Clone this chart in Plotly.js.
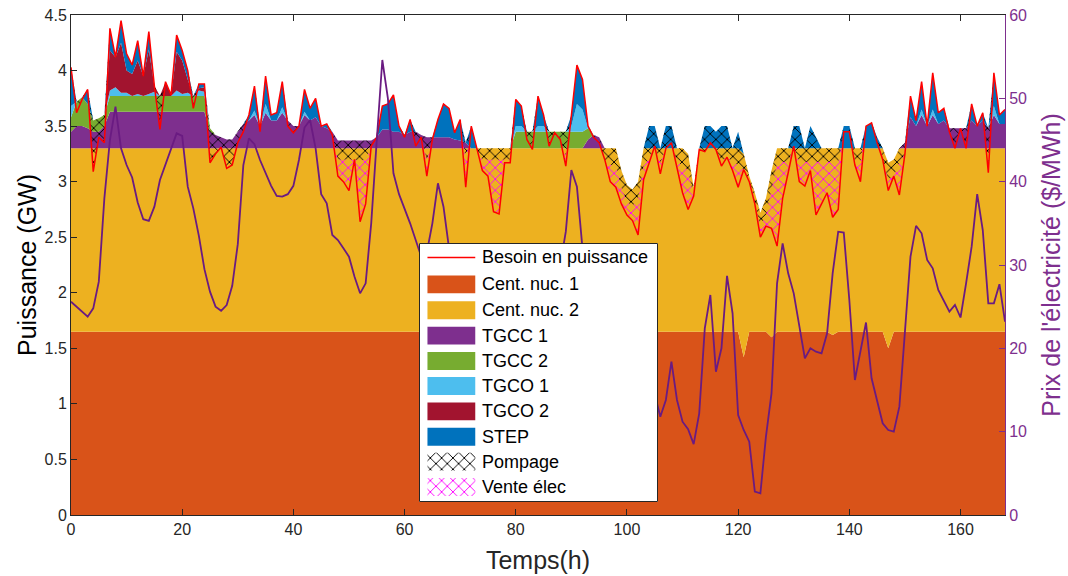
<!DOCTYPE html>
<html><head><meta charset="utf-8">
<script src="https://cdn.plot.ly/plotly-3.0.1.min.js"></script>
<style>html,body{margin:0;padding:0;background:#fff}#chart{width:1068px;height:576px}</style>
</head><body><div id="chart"></div>
<script>
// Time axis (hours)
const hours = Array.from({length:169}, (_, i) => i);

// Demand (GW)
const demand = [
4.03,3.62,3.74,3.83,3.09,3.40,3.35,4.38,4.12,4.45,
4.15,4.05,4.27,3.95,4.35,3.86,3.47,3.90,3.78,4.32,
4.18,4.00,3.66,3.88,3.88,3.17,3.25,3.31,3.12,3.15,
3.35,3.45,3.60,3.86,3.45,3.95,3.60,3.62,3.90,3.50,
3.44,3.50,3.83,3.66,3.75,3.50,3.52,3.42,3.05,3.00,
2.92,3.20,2.64,2.80,3.32,3.40,3.68,3.70,3.78,3.50,
3.40,3.56,3.32,3.40,3.05,3.38,3.56,3.70,3.66,3.44,
3.56,2.95,3.50,3.29,3.10,3.05,2.73,2.71,3.17,3.17,
3.74,3.68,3.38,3.29,3.77,3.60,3.32,3.44,3.38,3.14,
3.60,4.05,3.92,3.50,3.40,3.35,3.20,3.00,2.95,2.80,
2.70,2.65,2.52,3.02,3.17,3.32,3.07,3.30,3.35,3.12,
2.90,2.75,2.87,3.29,3.27,3.35,3.29,3.14,3.22,3.10,
2.95,3.11,3.00,2.80,2.50,2.60,2.58,2.42,2.85,3.08,
3.32,3.00,2.96,3.10,2.70,2.80,2.90,2.68,2.75,3.45,
3.45,3.15,3.00,3.50,3.53,3.35,3.20,2.92,3.05,2.88,
3.25,3.77,3.55,3.90,3.50,3.98,3.62,3.66,3.45,3.30,
3.48,3.30,3.70,3.50,3.62,3.08,3.98,3.60,3.65];

// Production by unit (GW)
const nuc1 = [
1.65,1.65,1.65,1.65,1.65,1.65,1.65,1.65,1.65,1.65,
1.65,1.65,1.65,1.65,1.65,1.65,1.65,1.65,1.65,1.65,
1.65,1.65,1.65,1.65,1.65,1.65,1.65,1.65,1.65,1.65,
1.65,1.65,1.65,1.65,1.65,1.65,1.65,1.65,1.65,1.65,
1.65,1.65,1.65,1.65,1.65,1.65,1.65,1.65,1.65,1.65,
1.65,1.65,1.65,1.65,1.65,1.65,1.65,1.65,1.65,1.65,
1.65,1.65,1.65,1.65,1.65,1.65,1.65,1.65,1.65,1.65,
1.65,1.65,1.65,1.65,1.65,1.65,1.65,1.65,1.65,1.65,
1.65,1.65,1.65,1.65,1.65,1.65,1.65,1.65,1.65,1.65,
1.65,1.65,1.65,1.65,1.65,1.65,1.65,1.65,1.65,1.65,
1.65,1.65,1.65,1.65,1.65,1.65,1.65,1.65,1.65,1.65,
1.65,1.65,1.65,1.65,1.65,1.65,1.65,1.65,1.65,1.65,
1.65,1.42,1.65,1.65,1.65,1.65,1.60,1.65,1.65,1.65,
1.65,1.65,1.65,1.65,1.65,1.65,1.65,1.62,1.65,1.65,
1.65,1.65,1.65,1.65,1.65,1.65,1.65,1.50,1.65,1.65,
1.65,1.65,1.65,1.65,1.65,1.65,1.65,1.65,1.65,1.65,
1.65,1.65,1.65,1.65,1.65,1.65,1.65,1.65,1.65];

const nuc2 = [
1.65,1.65,1.65,1.65,1.65,1.65,1.65,1.65,1.65,1.65,
1.65,1.65,1.65,1.65,1.65,1.65,1.65,1.65,1.65,1.65,
1.65,1.65,1.65,1.65,1.65,1.65,1.65,1.65,1.65,1.65,
1.65,1.65,1.65,1.65,1.65,1.65,1.65,1.65,1.65,1.65,
1.65,1.65,1.65,1.65,1.65,1.65,1.65,1.65,1.65,1.65,
1.65,1.65,1.65,1.65,1.65,1.65,1.65,1.65,1.65,1.65,
1.65,1.65,1.65,1.65,1.65,1.65,1.65,1.65,1.65,1.65,
1.65,1.65,1.65,1.65,1.65,1.65,1.65,1.65,1.65,1.65,
1.65,1.65,1.65,1.65,1.65,1.65,1.65,1.65,1.65,1.65,
1.65,1.65,1.65,1.65,1.65,1.65,1.65,1.65,1.65,1.45,
1.32,1.28,1.35,1.65,1.65,1.65,1.65,1.65,1.65,1.65,
1.65,1.60,1.30,1.65,1.65,1.65,1.65,1.65,1.65,1.65,
1.65,1.83,1.40,1.25,1.07,1.20,1.50,1.65,1.65,1.65,
1.65,1.65,1.65,1.65,1.65,1.65,1.65,1.68,1.65,1.65,
1.65,1.65,1.65,1.65,1.65,1.65,1.65,1.67,1.55,1.65,
1.65,1.65,1.65,1.65,1.65,1.65,1.65,1.65,1.65,1.65,
1.65,1.65,1.65,1.65,1.65,1.65,1.65,1.65,1.65];

const tgcc1 = [
0.15,0.20,0.20,0.18,0.15,0.15,0.20,0.33,0.33,0.33,
0.33,0.33,0.33,0.33,0.33,0.33,0.33,0.33,0.33,0.33,
0.33,0.33,0.33,0.33,0.33,0.15,0.12,0.10,0.08,0.08,
0.15,0.22,0.25,0.30,0.20,0.32,0.25,0.25,0.32,0.25,
0.20,0.20,0.30,0.25,0.28,0.20,0.18,0.15,0.07,0.07,
0.07,0.07,0.07,0.07,0.07,0.10,0.17,0.17,0.15,0.15,
0.12,0.15,0.15,0.12,0.10,0.10,0.10,0.10,0.10,0.08,
0.07,0.05,0,0,0,0,0,0,0,0,
0,0,0,0,0,0,0,0,0,0,
0,0,0,0.08,0.12,0.10,0,0,0,0,
0,0,0,0,0,0,0,0,0,0,
0,0,0,0,0,0,0,0,0,0,
0,0,0,0,0,0,0,0,0,0,
0,0,0,0,0,0,0,0,0,0,
0,0,0,0,0,0,0,0,0,0,
0.05,0.28,0.20,0.30,0.20,0.30,0.22,0.25,0.18,0.18,
0.18,0.18,0.25,0.20,0.25,0.18,0.30,0.22,0.22];

const tgcc2 = [
0.13,0.22,0.26,0.22,0.10,0.12,0.10,0.14,0.14,0.14,
0.14,0.14,0.14,0.14,0.14,0.14,0.14,0.14,0.14,0.14,
0.14,0.14,0.14,0.14,0.14,0.03,0,0,0,0,
0,0,0,0,0,0,0,0,0,0,
0,0,0,0,0,0,0,0,0,0,
0,0,0,0,0,0,0,0,0,0,
0,0,0,0,0,0,0,0,0,0,
0,0,0,0,0,0,0,0,0,0,
0.15,0.15,0.15,0.15,0.15,0.15,0.15,0.15,0.15,0.15,
0.15,0.15,0.15,0.10,0,0,0,0,0,0,
0,0,0,0,0,0,0,0,0,0,
0,0,0,0,0,0,0,0,0,0,
0,0,0,0,0,0,0,0,0,0,
0,0,0,0,0,0,0,0,0,0,
0,0,0,0,0,0,0,0,0,0,
0,0,0,0,0,0,0,0,0,0,
0,0,0,0,0,0,0,0,0];

const tgco1 = [
0.10,0,0,0,0,0,0,0.05,0.08,0.03,
0.03,0,0.02,0,0.02,0.04,0,0,0,0.05,
0.02,0.03,0,0.05,0.04,0,0,0,0,0,
0,0,0,0.04,0,0.08,0,0,0.05,0,
0,0,0.03,0,0,0,0,0,0,0,
0,0,0,0,0,0,0,0,0,0,
0,0,0,0,0,0,0,0,0,0,
0,0,0,0,0,0,0,0,0,0,
0.05,0.05,0,0,0.05,0.05,0,0,0,0,
0.05,0.25,0.20,0,0,0,0,0,0,0,
0,0,0,0,0,0,0,0,0,0,
0,0,0,0,0,0,0,0,0,0,
0,0,0,0,0,0,0,0,0,0,
0,0,0,0,0,0,0,0,0,0,
0,0,0,0,0,0,0,0,0,0,
0,0,0,0.05,0,0.05,0,0,0,0,
0,0,0,0,0,0,0.08,0,0];

const tgco2 = [
0,0,0,0,0,0,0,0.36,0.27,0.45,
0.20,0.20,0.30,0.18,0.40,0.05,0,0.13,0.01,0.35,
0.30,0.12,0,0.02,0.04,0,0,0,0,0,
0,0,0,0,0,0,0,0,0,0,
0,0,0,0,0,0,0,0,0,0,
0,0,0,0,0,0,0,0,0,0,
0,0,0,0,0,0,0,0,0,0,
0,0,0,0,0,0,0,0,0,0,
0,0,0,0,0,0,0,0,0,0,
0,0,0,0,0,0,0,0,0,0,
0,0,0,0,0,0,0,0,0,0,
0,0,0,0,0,0,0,0,0,0,
0,0,0,0,0,0,0,0,0,0,
0,0,0,0,0,0,0,0,0,0,
0,0,0,0,0,0,0,0,0,0,
0,0,0,0,0,0,0,0,0,0,
0,0,0,0,0,0,0,0,0];

const step = [
0.35,0,0,0.13,0,0,0,0.20,0,0.20,
0.15,0.08,0.18,0,0.16,0,0,0,0,0.15,
0.09,0.08,0,0.04,0.03,0,0,0,0,0,
0,0,0.05,0.22,0,0.25,0.05,0.07,0.23,0,
0,0,0.20,0.11,0.17,0,0.04,0,0,0,
0,0,0,0,0,0,0.21,0.23,0.33,0.05,
0,0.11,0,0,0,0,0.16,0.30,0.26,0.06,
0.19,0,0.20,0,0,0,0,0,0,0,
0.24,0.18,0,0,0.27,0.10,0,0,0,0,
0.10,0.35,0.27,0.02,0,0,0,0,0,0,
0,0,0,0,0.20,0.20,0,0.20,0.20,0,
0,0,0,0,0.20,0.20,0.15,0.20,0.20,0,
0.15,0,0,0,0,0,0,0,0,0,
0.20,0.20,0,0.20,0.10,0,0,0,0,0.20,
0.20,0,0,0.20,0.23,0.10,0,0,0,0,
0,0.19,0.05,0.25,0,0.33,0.10,0.11,0,0,
0,0,0.15,0,0.07,0,0.30,0.08,0.13];

// Electricity sold (GW)
const vente = [
0,0,0,0,0,0,0,0,0,0,
0,0,0,0,0,0,0,0,0,0,
0,0,0,0,0,0,0,0,0,0,
0,0,0,0,0,0,0,0,0,0,
0,0,0,0,0,0,0,0,0.15,0.20,
0.28,0,0.55,0.40,0,0,0,0,0,0,
0,0,0,0,0.15,0,0,0,0,0,
0,0.25,0,0,0.10,0.15,0.47,0.49,0.03,0.03,
0,0,0,0,0,0,0,0,0,0.10,
0,0,0,0,0,0,0,0.15,0.20,0.15,
0.12,0.13,0.33,0.13,0.03,0,0.10,0,0,0.06,
0.25,0.35,0,0,0,0,0,0.05,0,0.08,
0.20,0,0,0,0.10,0.10,0.35,0.75,0.33,0.10,
0,0.18,0.22,0.08,0.48,0.38,0.28,0.50,0.43,0,
0,0.03,0.18,0,0,0,0,0.10,0,0.30,
0,0,0,0,0,0,0,0,0,0,
0,0,0,0,0,0.05,0,0,0];

// Electricity price ($/MWh)
const price = [
25.6,25.0,24.5,23.8,24.8,28.0,38.0,45.0,49.0,44.0,
42.0,40.5,37.5,35.5,35.3,37.0,40.2,42.0,44.0,45.8,
45.5,39.4,36.8,33.5,29.5,26.8,25.0,24.5,25.2,27.5,
32.5,42.0,45.2,44.5,42.6,41.0,39.5,38.3,38.2,38.5,
39.5,42.6,46.5,47.4,44.0,38.5,37.4,33.6,33.0,32.0,
31.0,28.6,26.6,27.8,35.0,45.0,54.6,50.0,41.0,38.5,
36.8,35.0,33.0,31.0,31.5,35.0,39.8,37.0,32.0,28.0,
24.0,20.0,18.0,16.0,14.0,13.0,12.5,14.0,17.0,22.0,
26.0,24.0,21.0,19.0,22.0,24.0,23.0,26.0,30.0,34.0,
41.4,39.4,32.0,25.0,22.0,18.0,16.0,14.0,13.0,13.0,
14.0,17.0,16.0,15.0,16.0,14.5,11.8,13.8,18.4,13.8,
11.2,10.3,8.5,12.2,22.4,26.4,17.2,20.0,28.7,24.2,
12.0,10.2,8.8,2.8,2.6,9.4,14.6,27.8,32.6,29.0,
26.6,22.6,18.8,20.0,19.6,19.4,21.8,29.0,34.0,33.9,
25.8,16.2,19.8,23.1,16.4,13.8,11.0,10.2,10.0,13.0,
22.6,31.0,34.7,33.8,30.6,29.6,27.0,25.6,24.4,25.2,
23.7,27.8,32.2,38.5,34.2,25.4,25.4,27.7,23.2];

const srcNames = ['Cent. nuc. 1','Cent. nuc. 2','TGCC 1','TGCC 2','TGCO 1','TGCO 2','STEP'];
const srcData = [nuc1, nuc2, tgcc1, tgcc2, tgco1, tgco2, step];
const srcColors = ['#D95319','#EDB120','#7E2F8E','#77AC30','#4DBEEE','#A2142F','#0072BD'];
const demandName = 'Besoin en puissance', demandColor = '#FF0000';
const hatchNames = ['Pompage','Vente élec'];
const hatchColors = ['#000000','#FF00FF'];

const FONT = 'Liberation Sans, Arial, Helvetica, sans-serif';
const hatch = c => ({shape:'x', fgcolor:c, fgopacity:1, bgcolor:'rgba(0,0,0,0)', fillmode:'overlay', size:8, solidity:0.22});
const traces = [];
srcData.forEach((arr, k) => {
  traces.push({x: hours, y: arr, type:'scatter', mode:'none', stackgroup:'prod',
    fillcolor: srcColors[k], name: srcNames[k], hoverinfo:'skip'});
});

// Envelope of production, and bands for sale / pumping
const topProd = hours.map(i => srcData.reduce((s, a) => s + a[i], 0));
const venteHi = hours.map(i => demand[i] + vente[i]);
const pompHi = hours.map(i => Math.max(topProd[i], venteHi[i]));
const noLine = {width:0, color:'rgba(0,0,0,0)'};

traces.push({x: hours, y: demand, type:'scatter', mode:'lines', line:noLine, hoverinfo:'skip'});
traces.push({x: hours, y: venteHi, type:'scatter', mode:'lines', line:noLine, fill:'tonexty',
  fillcolor:'rgba(0,0,0,0)', fillpattern: hatch(hatchColors[1]), name: hatchNames[1], hoverinfo:'skip'});
traces.push({x: hours, y: venteHi, type:'scatter', mode:'lines', line:noLine, hoverinfo:'skip'});
traces.push({x: hours, y: pompHi, type:'scatter', mode:'lines', line:noLine, fill:'tonexty',
  fillcolor:'rgba(0,0,0,0)', fillpattern: hatch(hatchColors[0]), name: hatchNames[0], hoverinfo:'skip'});

traces.push({x: hours, y: demand, type:'scatter', mode:'lines', line:{color:demandColor, width:1.5}, name: demandName});
traces.push({x: hours, y: price, type:'scatter', mode:'lines', yaxis:'y2', line:{color:'#6A1B82', width:1.8}, name:'Prix'});

// ---- Legend box (MATLAB style) drawn in its own small overlay subplot ----
const PLOT = {l:71, r:1005, t:15, b:515};
const LEG = {l:419, r:658, t:243, b:502};
const legW = LEG.r - LEG.l, legH = LEG.b - LEG.t;
const rowY = [14, 41, 67, 92.5, 118, 143, 168.5, 194, 219, 244.5];
const sw = {x0:8, x1:56, h:9};
const legendItems = [{name:demandName, kind:'line', color:demandColor}]
  .concat(srcNames.map((n, k) => ({name:n, kind:'solid', color:srcColors[k]})))
  .concat(hatchNames.map((n, k) => ({name:n, kind:'hatch', color:hatchColors[k]})));

const legAx = {xaxis:'x3', yaxis:'y3', hoverinfo:'skip', showlegend:false};
traces.push(Object.assign({type:'scatter', mode:'lines', x:[0, legW, legW, 0, 0], y:[0, 0, legH, legH, 0],
  fill:'toself', fillcolor:'#ffffff', line:{color:'#262626', width:1}}, legAx));
const annotations = [];
legendItems.forEach((it, k) => {
  const yc = rowY[k];
  if (it.kind === 'line') {
    traces.push(Object.assign({type:'scatter', mode:'lines', x:[sw.x0, sw.x1], y:[yc, yc], line:{color:it.color, width:1.5}}, legAx));
  } else {
    const t = Object.assign({type:'scatter', mode:'lines', x:[sw.x0, sw.x1, sw.x1, sw.x0, sw.x0],
      y:[yc - sw.h, yc - sw.h, yc + sw.h, yc + sw.h, yc - sw.h], fill:'toself', line:{width:0, color:'rgba(0,0,0,0)'}}, legAx);
    if (it.kind === 'solid') { t.fillcolor = it.color; }
    else { t.fillcolor = 'rgba(0,0,0,0)'; t.fillpattern = hatch(it.color); }
    traces.push(t);
  }
  annotations.push({xref:'x3', yref:'y3', x:61, y:yc, text:it.name, showarrow:false, xanchor:'left', yanchor:'middle',
    font:{family:FONT, size:18, color:'#000'}});
});

const layout = {
  width: 1068, height: 576,
  margin: {l:71, r:63, t:15, b:61},
  paper_bgcolor:'#ffffff', plot_bgcolor:'#ffffff',
  font: {family: FONT, color:'#262626'},
  showlegend: false,
  hovermode: false,
  annotations: annotations,
  xaxis: {range:[0,168], tickvals:[0,20,40,60,80,100,120,140,160], ticks:'inside', ticklen:6,
    tickcolor:'#262626', showline:true, linecolor:'#262626', linewidth:1, mirror:'ticks',
    showgrid:false, zeroline:false, tickfont:{size:16, color:'#262626'},
    title:{text:'Temps(h)', font:{size:25, color:'#262626'}, standoff:14}},
  yaxis: {range:[0,4.5], dtick:0.5, ticks:'inside', ticklen:6, tickcolor:'#262626',
    showline:true, linecolor:'#262626', linewidth:1, showgrid:false, zeroline:false,
    tickfont:{size:16, color:'#262626'},
    title:{text:'Puissance (GW)', font:{size:25, color:'#000'}, standoff:0}},
  yaxis2: {range:[0,60], dtick:10, overlaying:'y', side:'right', ticks:'inside', ticklen:6,
    tickcolor:'#7E2F8E', showline:true, linecolor:'#7E2F8E', linewidth:1, showgrid:false, zeroline:false,
    tickfont:{size:16, color:'#7E2F8E'},
    title:{text:"Prix de l'électricité ($/MWh)", font:{size:25, color:'#7E2F8E'}, standoff:16}},
  xaxis3: {domain:[(LEG.l - PLOT.l) / (PLOT.r - PLOT.l), (LEG.r - PLOT.l) / (PLOT.r - PLOT.l)],
    range:[-0.5, legW + 0.5], visible:false, anchor:'y3', fixedrange:true},
  yaxis3: {domain:[(PLOT.b - LEG.b) / (PLOT.b - PLOT.t), (PLOT.b - LEG.t) / (PLOT.b - PLOT.t)],
    range:[legH + 0.5, -0.5], visible:false, anchor:'x3', fixedrange:true}
};

Plotly.newPlot('chart', traces, layout, {displayModeBar:false, staticPlot:true});
</script>
</body></html>
